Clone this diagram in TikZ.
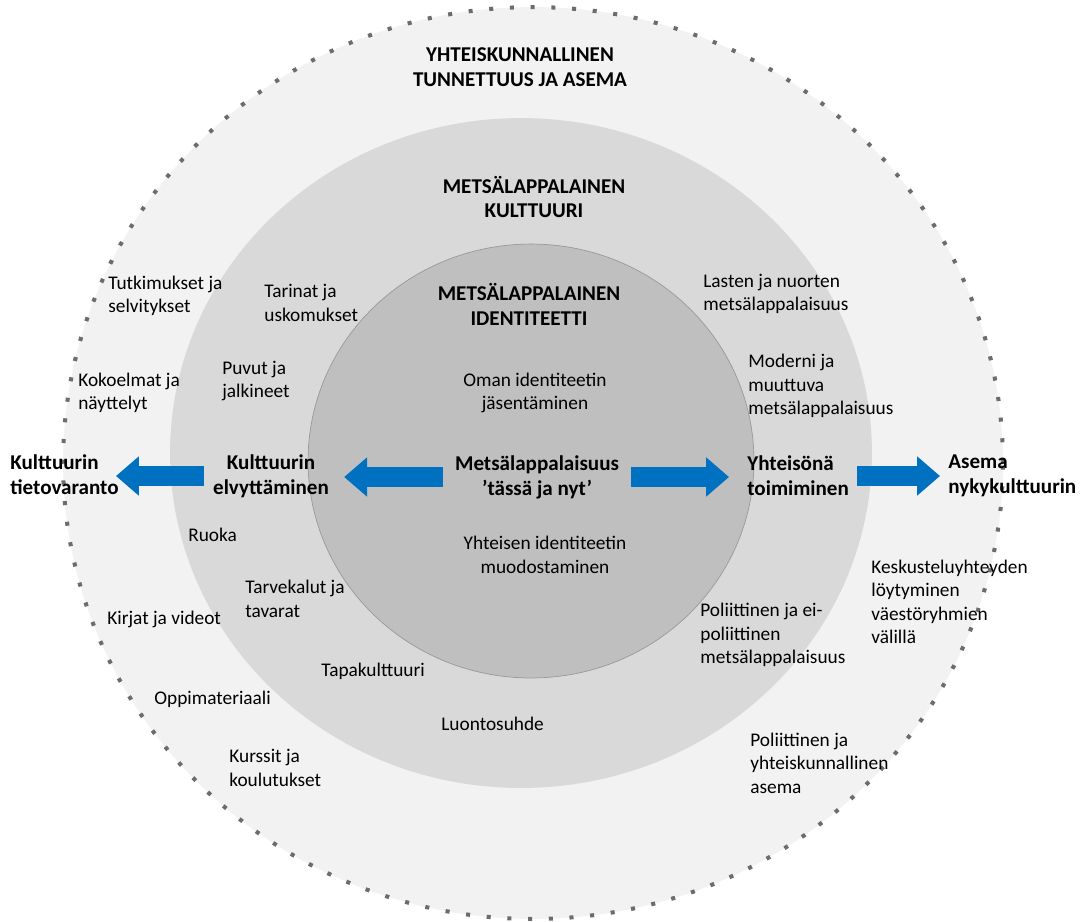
\documentclass[tikz,border=0pt]{standalone}
\usepackage{fontspec}
\setmainfont{Carlito}
\usetikzlibrary{arrows.meta}
\definecolor{ringout}{HTML}{F2F2F2}
\definecolor{ringmid}{HTML}{D9D9D9}
\definecolor{ringin}{HTML}{BFBFBF}
\definecolor{arrblue}{HTML}{0070C0}

\begin{document}
\begin{tikzpicture}[x=0.02cm, y=-0.02cm,
    txt/.style={font=\fontsize{11}{13.3}\selectfont, inner sep=0pt, align=left, anchor=west},
    hdr/.style={font=\fontsize{12}{14.2}\selectfont\bfseries, inner sep=0pt, align=center},
    bigarrow/.style={draw=arrblue, line width=11.3pt, -{Triangle[length=13pt, width=21.5pt]}}]

    \useasboundingbox (0,0) rectangle (1087,921);
    \fill[white] (0,0) rectangle (1087,921);

    % renkaat
    \draw[fill=ringout, draw=gray!85!black, line width=2.3pt, dash pattern=on 2.3pt off 9.5pt] (533,463) ellipse [x radius=9.4cm, y radius=9.12cm];
    \fill[ringmid] (521,453) ellipse [x radius=7.02cm, y radius=6.7cm];
    \draw[fill=ringin, draw=gray!80] (531,461) ellipse [x radius=4.46cm, y radius=4.34cm];

    % otsikot
    \node[hdr] (asemaotsikko) at (520,67) {YHTEISKUNNALLINEN\\TUNNETTUUS JA ASEMA};
    \node[hdr] (kulttuuriotsikko) at (534,197) {METSÄLAPPALAINEN\\KULTTUURI};
    \node[hdr] (identiteettiotsikko) at (529,304) {METSÄLAPPALAINEN\\IDENTITEETTI};

    % keskusta ja nuolet
    \node[hdr] (nyt) at (537,477) {Metsälappalaisuus\\’tässä ja nyt’};
    \node[hdr] (elvy) at (271,476) {Kulttuurin\\elvyttäminen};
    \node[hdr, align=left, anchor=west] (tieto) at (10,475) {Kulttuurin\\tietovaranto};
    \node[hdr, align=left, anchor=west] (yht) at (747,476) {Yhteisönä\\toimiminen};
    \node[hdr, align=left, anchor=west] (asema) at (948,476) {Asema\\nykykulttuurin};

    \draw[bigarrow, shorten <=0.24cm, shorten >=0.3cm] (nyt.west) -- (nyt.west -| elvy.east);
    \draw[bigarrow, shorten <=0.18cm, shorten >=-0.06cm] (elvy.west) -- (elvy.west -| tieto.east);
    \draw[bigarrow, shorten <=0.24cm, shorten >=0.36cm] (nyt.east) -- (nyt.east -| yht.west);
    \draw[bigarrow, shorten <=0.16cm, shorten >=0.16cm] (yht.east) -- (yht.east -| asema.west);

    % sisin rengas
    \node[txt, align=center, anchor=center] (oman) at (535,393) {Oman identiteetin\\jäsentäminen};
    \node[txt, align=center, anchor=center] (yhteisen) at (545,555) {Yhteisen identiteetin\\muodostaminen};

    % keskimmäinen rengas
    \node[txt] (tarinat) at (264,303) {Tarinat ja\\uskomukset};
    \node[txt] (puvut) at (222,381) {Puvut ja\\jalkineet};
    \node[txt] (ruoka) at (188,535) {Ruoka};
    \node[txt] (tarvekalut) at (245,599) {Tarvekalut ja\\tavarat};
    \node[txt] (tapa) at (321,671) {Tapakulttuuri};
    \node[txt] (luonto) at (441,724) {Luontosuhde};
    \node[txt] (lasten) at (703,294) {Lasten ja nuorten\\metsälappalaisuus};
    \node[txt] (moderni) at (748,386) {Moderni ja\\muuttuva\\metsälappalaisuus};
    \node[txt] (poliit) at (700,635) {Poliittinen ja ei-\\poliittinen\\metsälappalaisuus};

    % uloin rengas
    \node[txt] (tutkimukset) at (108,296) {Tutkimukset ja\\selvitykset};
    \node[txt] (kokoelmat) at (78,393) {Kokoelmat ja\\näyttelyt};
    \node[txt] (kirjat) at (107,619) {Kirjat ja videot};
    \node[txt] (oppi) at (154,699) {Oppimateriaali};
    \node[txt] (kurssit) at (229,768) {Kurssit ja\\koulutukset};
    \node[txt] (keskustelu) at (871,602) {Keskusteluyhteyden\\löytyminen\\väestöryhmien\\välillä};
    \node[txt] (yhteiskunta) at (750,763) {Poliittinen ja\\yhteiskunnallinen\\asema};

\end{tikzpicture}
\end{document}
